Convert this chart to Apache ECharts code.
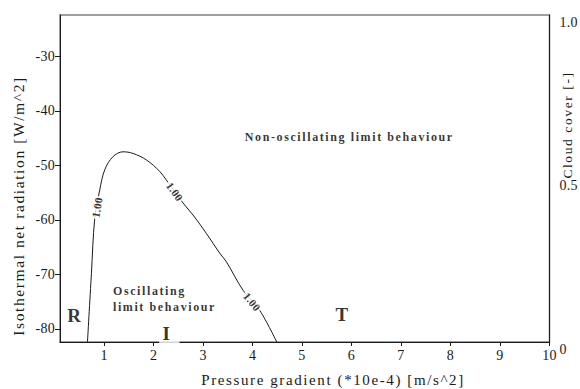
<!DOCTYPE html>
<html>
<head>
<meta charset="utf-8">
<script src="https://cdn.jsdelivr.net/npm/echarts@6/dist/echarts.min.js"></script>
<style>
  html, body { margin: 0; padding: 0; background: #fff; }
  #chart { width: 580px; height: 389px; }
  /* the SVG renderer emits <text> nodes, so tracking can be set in CSS */
  #chart text { letter-spacing: 1.6px; }
  #chart text.num { letter-spacing: 0.3px; }
</style>
</head>
<body>
<div id="chart"></div>
<script>
// Axis ticks
const xTicks = [1, 2, 3, 4, 5, 6, 7, 8, 9, 10];
const yTicks = [-80, -70, -60, -50, -40, -30];
const cloudTicks = [0, 0.5, 1];
const cloudTickLabels = ['0', '0.5', '1.0'];

// The 1.00 contour separating the two regimes
const contourX = [0.665, 0.745, 0.812, 0.913, 1.014, 1.18, 1.384, 1.586, 1.857, 2.125, 2.26, 2.596, 2.798, 3.069, 3.337, 3.473, 3.808, 4.145, 4.49];
const contourY = [-82.4, -69.8, -59.7, -54.5, -50.8, -48.4, -47.5, -47.8, -49.0, -51.1, -52.7, -56.9, -59.1, -62.5, -66.1, -67.7, -72.9, -76.6, -82.4];

// Contour value labels along the line
const contourLabelText = ['1.00', '1.00', '1.00'];
const contourLabelX = [0.859, 2.428, 3.99];
const contourLabelY = [-57.7, -54.8, -75.0];

// Region annotations
const regionText = ['Non-oscillating limit behaviour', 'Oscillating\nlimit behaviour', 'R', 'I', 'T'];
const regionX = [3.844, 1.18, 0.413, 2.32, 5.82];
const regionY = [-44.8, -74.5, -77.45, -80.93, -77.27];

const X_MIN = 0.11, X_MAX = 10, Y_MIN = -82.4, Y_MAX = -22.4;
const FONT = "'Liberation Serif', 'Times New Roman', Times, serif";
const INK = '#1a1a1a';

// text orientation for each contour label (follows the local slope)
const contourLabelAngle = [80, -54, -50];
// text style for each region annotation
const regionStyle = [
  { fontSize: 12, align: 'left' },
  { fontSize: 12, align: 'left', lineHeight: 16.5 },
  { fontSize: 19, align: 'center' },
  { fontSize: 19, align: 'center', backgroundColor: '#fff', padding: [2, 9, 3, 4] },
  { fontSize: 19, align: 'center' }
];

const chart = echarts.init(document.getElementById('chart'), null, { renderer: 'svg' });

chart.setOption({
  animation: false,
  backgroundColor: '#fff',
  textStyle: { fontFamily: FONT },
  grid: {
    left: 60, right: 30, top: 15, bottom: 47,
    show: true, borderColor: '#808080', borderWidth: 1.5, backgroundColor: 'transparent'
  },
  xAxis: {
    type: 'value', min: X_MIN, max: X_MAX,
    axisLine: { show: true, lineStyle: { color: INK, width: 1 } },
    axisTick: { show: true, customValues: xTicks, length: 4, lineStyle: { color: INK } },
    axisLabel: {
      customValues: xTicks, margin: 6, color: INK, fontSize: 14, fontFamily: FONT
    },
    splitLine: { show: false }
  },
  yAxis: [
    {
      type: 'value', min: Y_MIN, max: Y_MAX, position: 'left',
      axisLine: { show: true, lineStyle: { color: INK, width: 1 } },
      axisTick: { show: true, customValues: yTicks, length: 5, lineStyle: { color: INK } },
      axisLabel: {
        customValues: yTicks, margin: 5, color: INK, fontSize: 14, fontFamily: FONT
      },
      splitLine: { show: false }
    },
    {
      type: 'value', min: 0, max: 1, position: 'right',
      axisLine: { show: true, lineStyle: { color: INK, width: 1 } },
      axisTick: { show: false },
      axisLabel: {
        customValues: cloudTicks, margin: 10, color: INK, fontSize: 14, fontFamily: FONT,
        verticalAlign: 'top', align: 'left',
        formatter: v => cloudTickLabels[cloudTicks.indexOf(v)]
      },
      splitLine: { show: false }
    }
  ],
  graphic: [
    {
      type: 'text', x: 333, y: 372, z: 10,
      style: { text: 'Pressure gradient (*10e-4) [m/s^2]', fontSize: 15, fontFamily: FONT,
               fill: INK, align: 'center', verticalAlign: 'top' }
    },
    {
      type: 'text', x: 10, y: 206, rotation: Math.PI / 2, z: 10,
      style: { text: 'Isothermal net radiation [W/m^2]', fontSize: 15.5, fontFamily: FONT,
               fill: INK, align: 'center', verticalAlign: 'top' }
    },
    {
      type: 'text', x: 560, y: 125, rotation: Math.PI / 2, z: 10,
      style: { text: 'Cloud cover [-]', fontSize: 13.5, fontFamily: FONT,
               fill: INK, align: 'center', verticalAlign: 'top' }
    }
  ],
  series: [
    {
      name: 'contour',
      type: 'line',
      smooth: 0.35,
      symbol: 'none',
      lineStyle: { color: INK, width: 1 },
      data: contourX.map((x, i) => [x, contourY[i]]),
      z: 2
    },
    {
      name: 'contour labels',
      type: 'scatter',
      symbolSize: 0,
      z: 5,
      data: contourLabelX.map((x, i) => ({
        value: [x, contourLabelY[i]],
        label: { rotate: contourLabelAngle[i] }
      })),
      label: {
        show: true, position: 'inside',
        formatter: p => contourLabelText[p.dataIndex],
        fontFamily: FONT, fontWeight: 'bold', fontSize: 11, color: '#000',
        backgroundColor: '#fff', padding: [0, 2]
      }
    },
    {
      name: 'regions',
      type: 'scatter',
      symbolSize: 0,
      z: 6,
      data: regionX.map((x, i) => ({
        value: [x, regionY[i]],
        label: Object.assign({}, regionStyle[i])
      })),
      label: {
        show: true, position: 'inside',
        formatter: p => regionText[p.dataIndex],
        fontFamily: FONT, fontWeight: 'bold', color: '#000'
      }
    }
  ]
});

// numeric tick labels are set with tighter tracking than the titles
document.querySelectorAll('#chart text').forEach(t => {
  if (/^[-\d.]+$/.test(t.textContent.trim())) t.classList.add('num');
});
</script>
</body>
</html>
